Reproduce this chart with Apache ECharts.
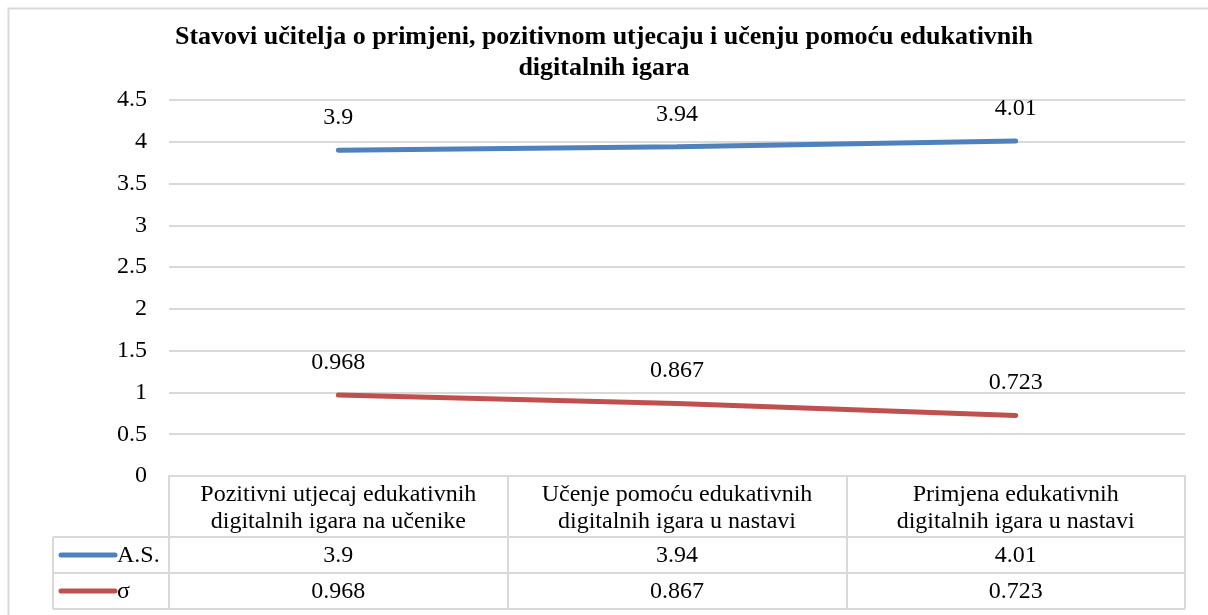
<!DOCTYPE html>
<html>
<head>
<meta charset="utf-8">
<script src="https://cdn.jsdelivr.net/npm/echarts@6/dist/echarts.min.js"></script>
<style>
  html, body { margin: 0; padding: 0; background: #fff; }
  #chart { width: 1208px; height: 615px; }
</style>
</head>
<body>
<div id="chart"></div>
<script>
// kategorije i vrijednosti
var categories = [
  "Pozitivni utjecaj edukativnih\ndigitalnih igara na učenike",
  "Učenje pomoću edukativnih\ndigitalnih igara u nastavi",
  "Primjena edukativnih\ndigitalnih igara u nastavi"
];
var seriesNames = ["A.S.", "σ"];
var asValues = [3.9, 3.94, 4.01];
var sigmaValues = [0.968, 0.867, 0.723];
var seriesColors = ["#4F81BD", "#C0504D"];

var font = "'Liberation Serif', 'Times New Roman', serif";
var gridColor = "#d9d9d9";
var fs = 24;

var mychart = echarts.init(document.getElementById("chart"));

function lineSeries(name, data, color) {
  return {
    name: name,
    type: "line",
    data: data,
    symbol: "circle",
    symbolSize: 1,
    itemStyle: { color: color },
    lineStyle: { color: color, width: 5, cap: "round" },
    label: {
      show: true,
      position: "top",
      distance: 20,
      fontFamily: font,
      fontSize: fs,
      color: "#000"
    },
    z: 3
  };
}

var option = {
  animation: false,
  title: {
    text: "Stavovi učitelja o primjeni, pozitivnom utjecaju i učenju pomoću edukativnih\ndigitalnih igara",
    left: "center",
    top: 17,
    textStyle: {
      fontFamily: font,
      fontWeight: "bold",
      fontSize: 26,
      lineHeight: 31,
      color: "#000"
    }
  },
  grid: { left: 169, right: 23, top: 100, bottom: 139 },
  xAxis: {
    type: "category",
    data: categories,
    boundaryGap: true,
    axisLine: { show: true, lineStyle: { color: gridColor, width: 2 } },
    axisTick: { show: true, length: 133, lineStyle: { color: gridColor, width: 2 } },
    axisLabel: {
      fontFamily: font,
      fontSize: fs,
      lineHeight: 27,
      color: "#000",
      margin: 5,
      interval: 0
    }
  },
  yAxis: {
    type: "value",
    min: 0,
    max: 4.5,
    interval: 0.5,
    axisLine: { show: false },
    axisTick: { show: false },
    axisLabel: { fontFamily: font, fontSize: fs, color: "#000", margin: 22 },
    splitLine: { lineStyle: { color: gridColor, width: 2 } }
  },
  series: [
    lineSeries(seriesNames[0], asValues, seriesColors[0]),
    lineSeries(seriesNames[1], sigmaValues, seriesColors[1])
  ]
};
mychart.setOption(option);

// tablica podataka ispod osi
var rows = [asValues, sigmaValues];
var x0 = 53, x1 = 1185;
var yTop = mychart.convertToPixel({ yAxisIndex: 0 }, 0);
var rowTop = yTop + 61, rowH = 36;
var g = [];
g.push({ type: "rect", shape: { x: 8.5, y: 8.5, width: 1220, height: 620 },
  style: { fill: null, stroke: gridColor, lineWidth: 2 }, silent: true });
for (var r = 0; r <= rows.length; r++) {
  var yy = rowTop + r * rowH;
  g.push({ type: "line", shape: { x1: x0, y1: yy, x2: x1, y2: yy },
    style: { stroke: gridColor, lineWidth: 2 } });
}
g.push({ type: "line", shape: { x1: x0, y1: rowTop, x2: x0, y2: rowTop + rows.length * rowH },
  style: { stroke: gridColor, lineWidth: 2 } });
rows.forEach(function (vals, r) {
  var cy = rowTop + r * rowH + rowH / 2;
  g.push({ type: "line", shape: { x1: 61, y1: cy, x2: 115, y2: cy },
    style: { stroke: seriesColors[r], lineWidth: 5, lineCap: "round" } });
  g.push({ type: "text", x: 117, y: cy + 1,
    style: { text: seriesNames[r], fill: "#000", fontFamily: font, fontSize: fs,
      textAlign: "left", textVerticalAlign: "middle" } });
  vals.forEach(function (v, i) {
    var cx = mychart.convertToPixel({ xAxisIndex: 0 }, i);
    g.push({ type: "text", x: cx, y: cy + 1,
      style: { text: String(v), fill: "#000", fontFamily: font, fontSize: fs,
        textAlign: "center", textVerticalAlign: "middle" } });
  });
});
mychart.setOption({ graphic: g });

window.addEventListener("resize", function () {
  mychart.resize();
});
</script>
</body>
</html>
